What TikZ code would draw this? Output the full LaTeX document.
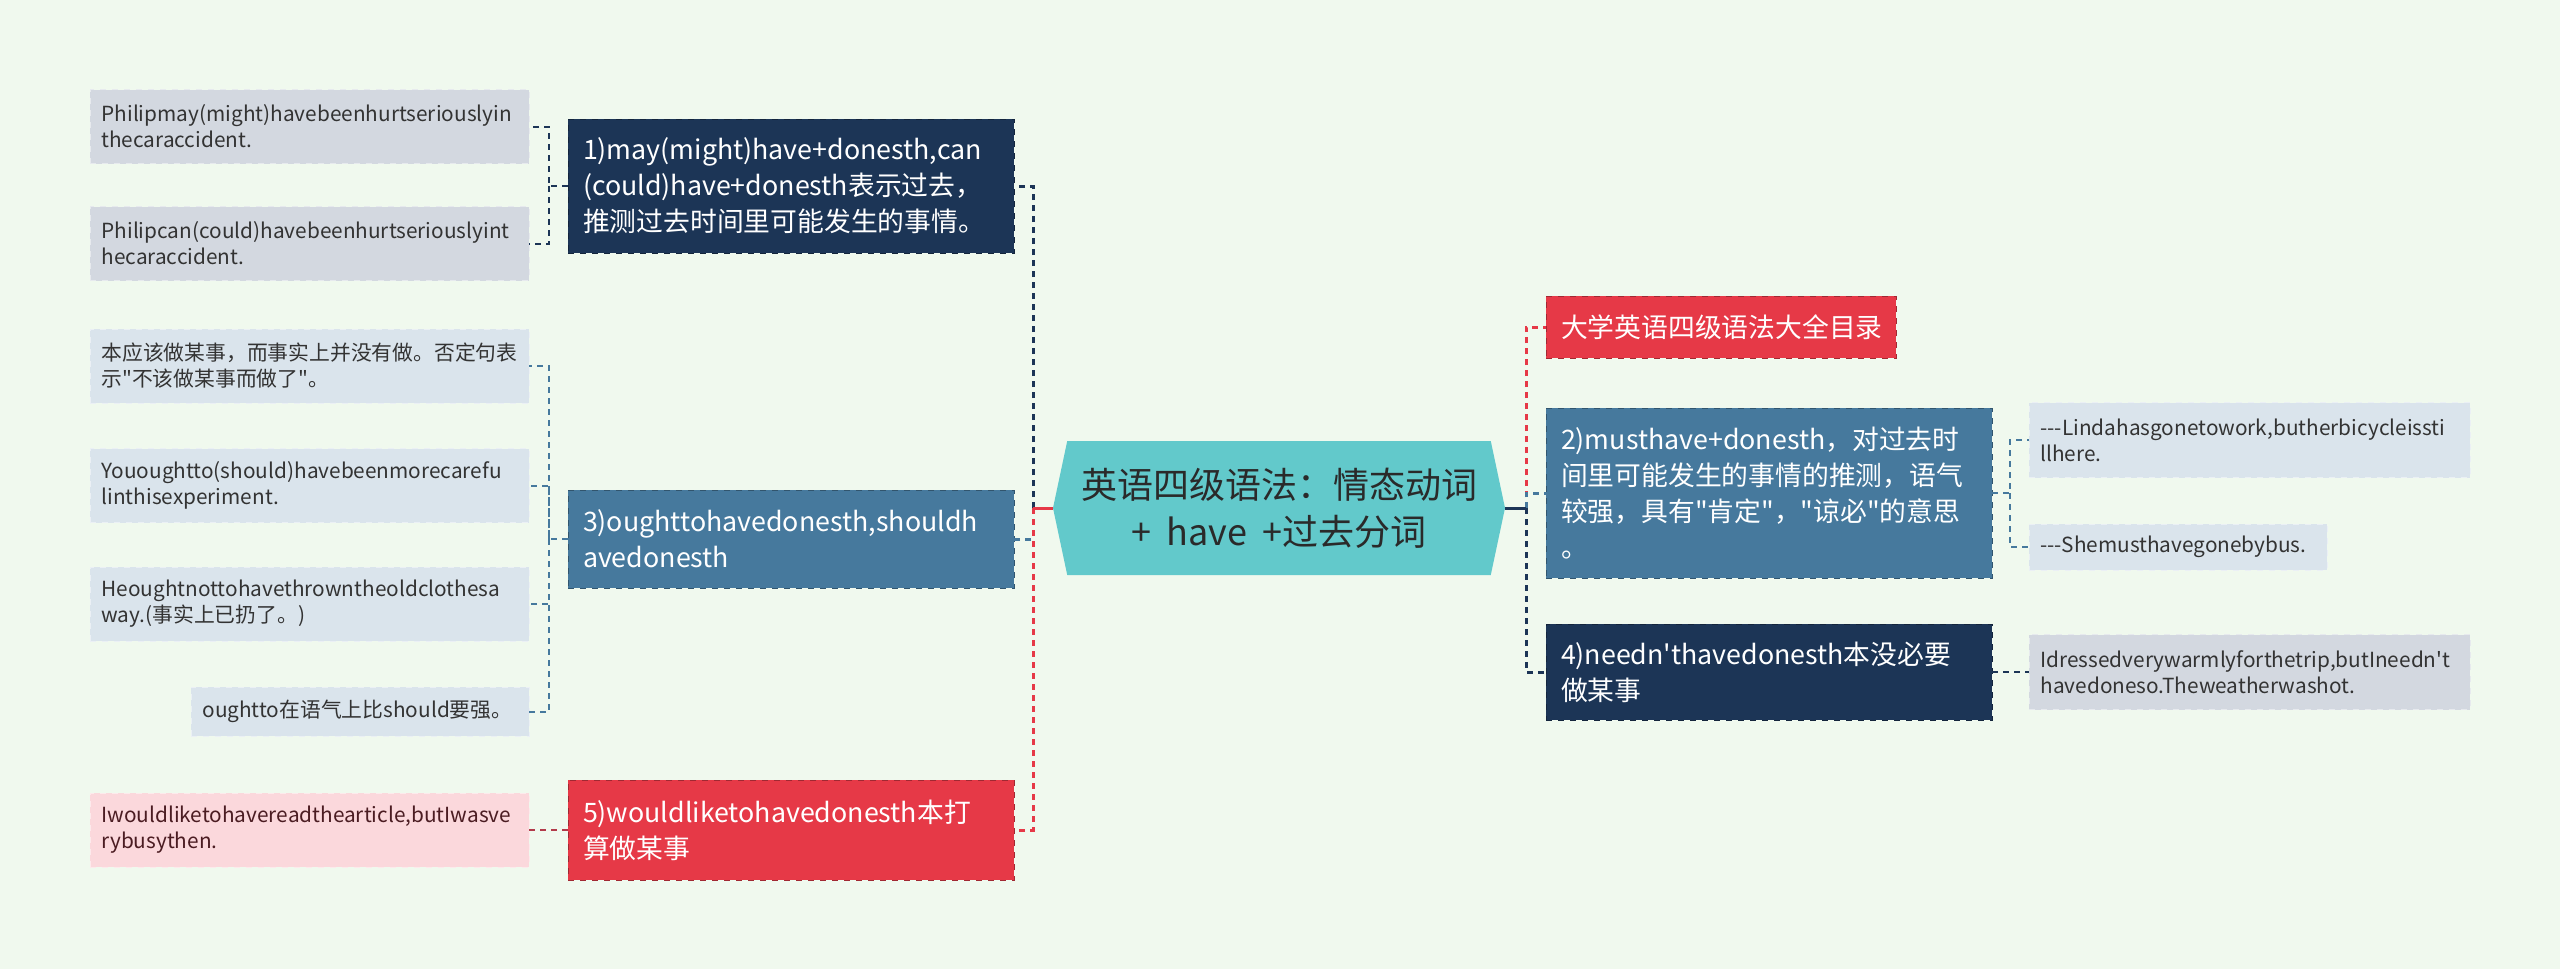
\documentclass[tikz,border=0pt]{standalone}
\usepackage{fontspec}
\newfontfamily\cjk{Noto Sans CJK SC}
\usetikzlibrary{shapes.symbols}
\hyphenpenalty=10000
\exhyphenpenalty=10000

\definecolor{bgmint}{HTML}{F0F9EE}
\definecolor{navy}{HTML}{1C3556}
\definecolor{steel}{HTML}{46799D}
\definecolor{rosered}{HTML}{E63947}
\definecolor{wine}{HTML}{B23A4A}
\definecolor{hubteal}{HTML}{62C9CB}
\definecolor{hubtext}{HTML}{2A2A2A}
\definecolor{leafgrey}{HTML}{D3D8E0}
\definecolor{leafblue}{HTML}{DAE4EC}
\definecolor{leafpink}{HTML}{FBD8DC}
\definecolor{leaftext}{HTML}{333333}
\definecolor{pinktext}{HTML}{4B1C22}

\tikzset{
  topic/.style={rectangle, draw=#1!70!black, dashed, fill=#1, text=white, align=left,
    inner xsep=7.5pt, inner ysep=0pt, font=\cjk\fontsize{13.4}{18}\selectfont},
  leaf/.style={rectangle, draw=#1!55!white, dashed, fill=#1, text=leaftext, align=left,
    inner xsep=5.7pt, inner ysep=0pt, font=\cjk\fontsize{10.4}{13}\selectfont},
  link/.style={draw=#1, line width=1.5pt, dash pattern=on 3pt off 2.5pt},
  twig/.style={draw=#1, line width=1pt, dash pattern=on 3pt off 2.5pt},
}

\begin{document}
\begin{tikzpicture}[x=1pt, y=-1pt]
\useasboundingbox (0,0) rectangle (1280,484.5);
\fill[bgmint] (0,0) rectangle (1280,484.5);

% centre
\node[signal, signal to=west and east, signal pointer angle=156, fill=hubteal, text=hubtext,
  minimum width=226pt, minimum height=67pt, inner sep=0pt, align=center,
  font=\cjk\fontsize{18}{23.5}\selectfont] (hub) at (639.5,254)
  {英语四级语法：情态动词\\+\hspace{7.5pt}have\hspace{7.5pt}+过去分词};

% left topics
\node[topic=navy, text width=208pt, minimum height=67pt] (may) at (395.5,93)
  {1)may(might)have+donesth,can\\(could)have+donesth表示过去，\\推测过去时间里可能发生的事情。};
\node[topic=steel, text width=208pt, minimum height=49pt] (ought) at (395.5,269.5)
  {3)oughttohavedonesth,shouldh\\avedonesth};
\node[topic=rosered, text width=208pt, minimum height=50pt] (would) at (395.5,415)
  {5)wouldliketohavedonesth本打\\算做某事};

% right topics
\node[topic=rosered, text width=160pt, minimum height=31pt] (toc) at (860.5,163.5)
  {大学英语四级语法大全目录};
\node[topic=steel, text width=208pt, minimum height=85pt] (must) at (884.5,246.5)
  {2)musthave+donesth，对过去时\\间里可能发生的事情的推测，语气\\较强，具有"肯定"，"谅必"的意思\\。};
\node[topic=navy, text width=208pt, minimum height=48pt] (neednt) at (884.5,336)
  {4)needn'thavedonesth本没必要\\做某事};

% left leaves
\node[leaf=leafgrey, text width=208pt, minimum height=37pt] (mayA) at (154.75,63.25)
  {Philipmay(might)havebeenhurtseriouslyin\\thecaraccident.};
\node[leaf=leafgrey, text width=208pt, minimum height=37pt] (mayB) at (154.75,121.75)
  {Philipcan(could)havebeenhurtseriouslyint\\hecaraccident.};
\node[leaf=leafblue, text width=208pt, minimum height=37pt] (oughtA) at (154.75,183)
  {本应该做某事，而事实上并没有做。否定句表\\示"不该做某事而做了"。};
\node[leaf=leafblue, text width=208pt, minimum height=37pt] (oughtB) at (154.75,242.75)
  {Yououghtto(should)havebeenmorecarefu\\linthisexperiment.};
\node[leaf=leafblue, text width=208pt, minimum height=37pt] (oughtC) at (154.75,302)
  {Heoughtnottohavethrowntheoldclothesa\\way.(事实上已扔了。)};
\node[leaf=leafblue, text width=157.6pt, minimum height=24.5pt] (oughtD) at (180,355.75)
  {oughtto在语气上比should要强。};
\node[leaf=leafpink, text=pinktext, text width=208pt, minimum height=37pt] (wouldA) at (154.75,415)
  {Iwouldliketohavereadthearticle,butIwasve\\rybusythen.};

% right leaves
\node[leaf=leafblue, text width=209pt, minimum height=37.5pt] (mustA) at (1124.75,220)
  {---Lindahasgonetowork,butherbicycleissti\\llhere.};
\node[leaf=leafblue, text width=137.6pt, minimum height=23pt] (mustB) at (1089,273.5)
  {---Shemusthavegonebybus.};
\node[leaf=leafgrey, text width=209pt, minimum height=37.5pt] (needntA) at (1124.75,336)
  {Idressedverywarmlyforthetrip,butIneedn't\\havedoneso.Theweatherwashot.};

% connectors
\coordinate (lbus) at (516.5,254);
\coordinate (rbus) at (763,254);
\coordinate (mayfork) at (274.5,93);
\coordinate (oughtfork) at (274.5,269.5);
\coordinate (mustfork) at (1005,246.5);

\draw[link=navy] (lbus) |- (may.east);
\draw[link=steel] (lbus) |- (ought.east);
\draw[link=rosered] (lbus) |- (would.east);
\draw[rosered, line width=1.5pt] (hub.west) -- (lbus);

\draw[link=rosered] (rbus) |- (toc.west);
\draw[link=steel] (rbus) |- (must.west);
\draw[link=navy] (rbus) |- (neednt.west);
\draw[navy, line width=1.5pt] (hub.east) -- (rbus);

\draw[twig=navy] (may.west) -- (mayfork) |- (mayA.east);
\draw[twig=navy] (mayfork) |- (mayB.east);
\draw[twig=steel] (ought.west) -- (oughtfork) |- (oughtA.east);
\draw[twig=steel] (oughtfork) |- (oughtB.east);
\draw[twig=steel] (oughtfork) |- (oughtC.east);
\draw[twig=steel] (oughtfork) |- (oughtD.east);
\draw[twig=wine] (would.west) -- (wouldA.east);

\draw[twig=steel] (must.east) -- (mustfork) |- (mustA.west);
\draw[twig=steel] (mustfork) |- (mustB.west);
\draw[twig=navy] (neednt.east) -- (needntA.west);
\end{tikzpicture}
\end{document}
